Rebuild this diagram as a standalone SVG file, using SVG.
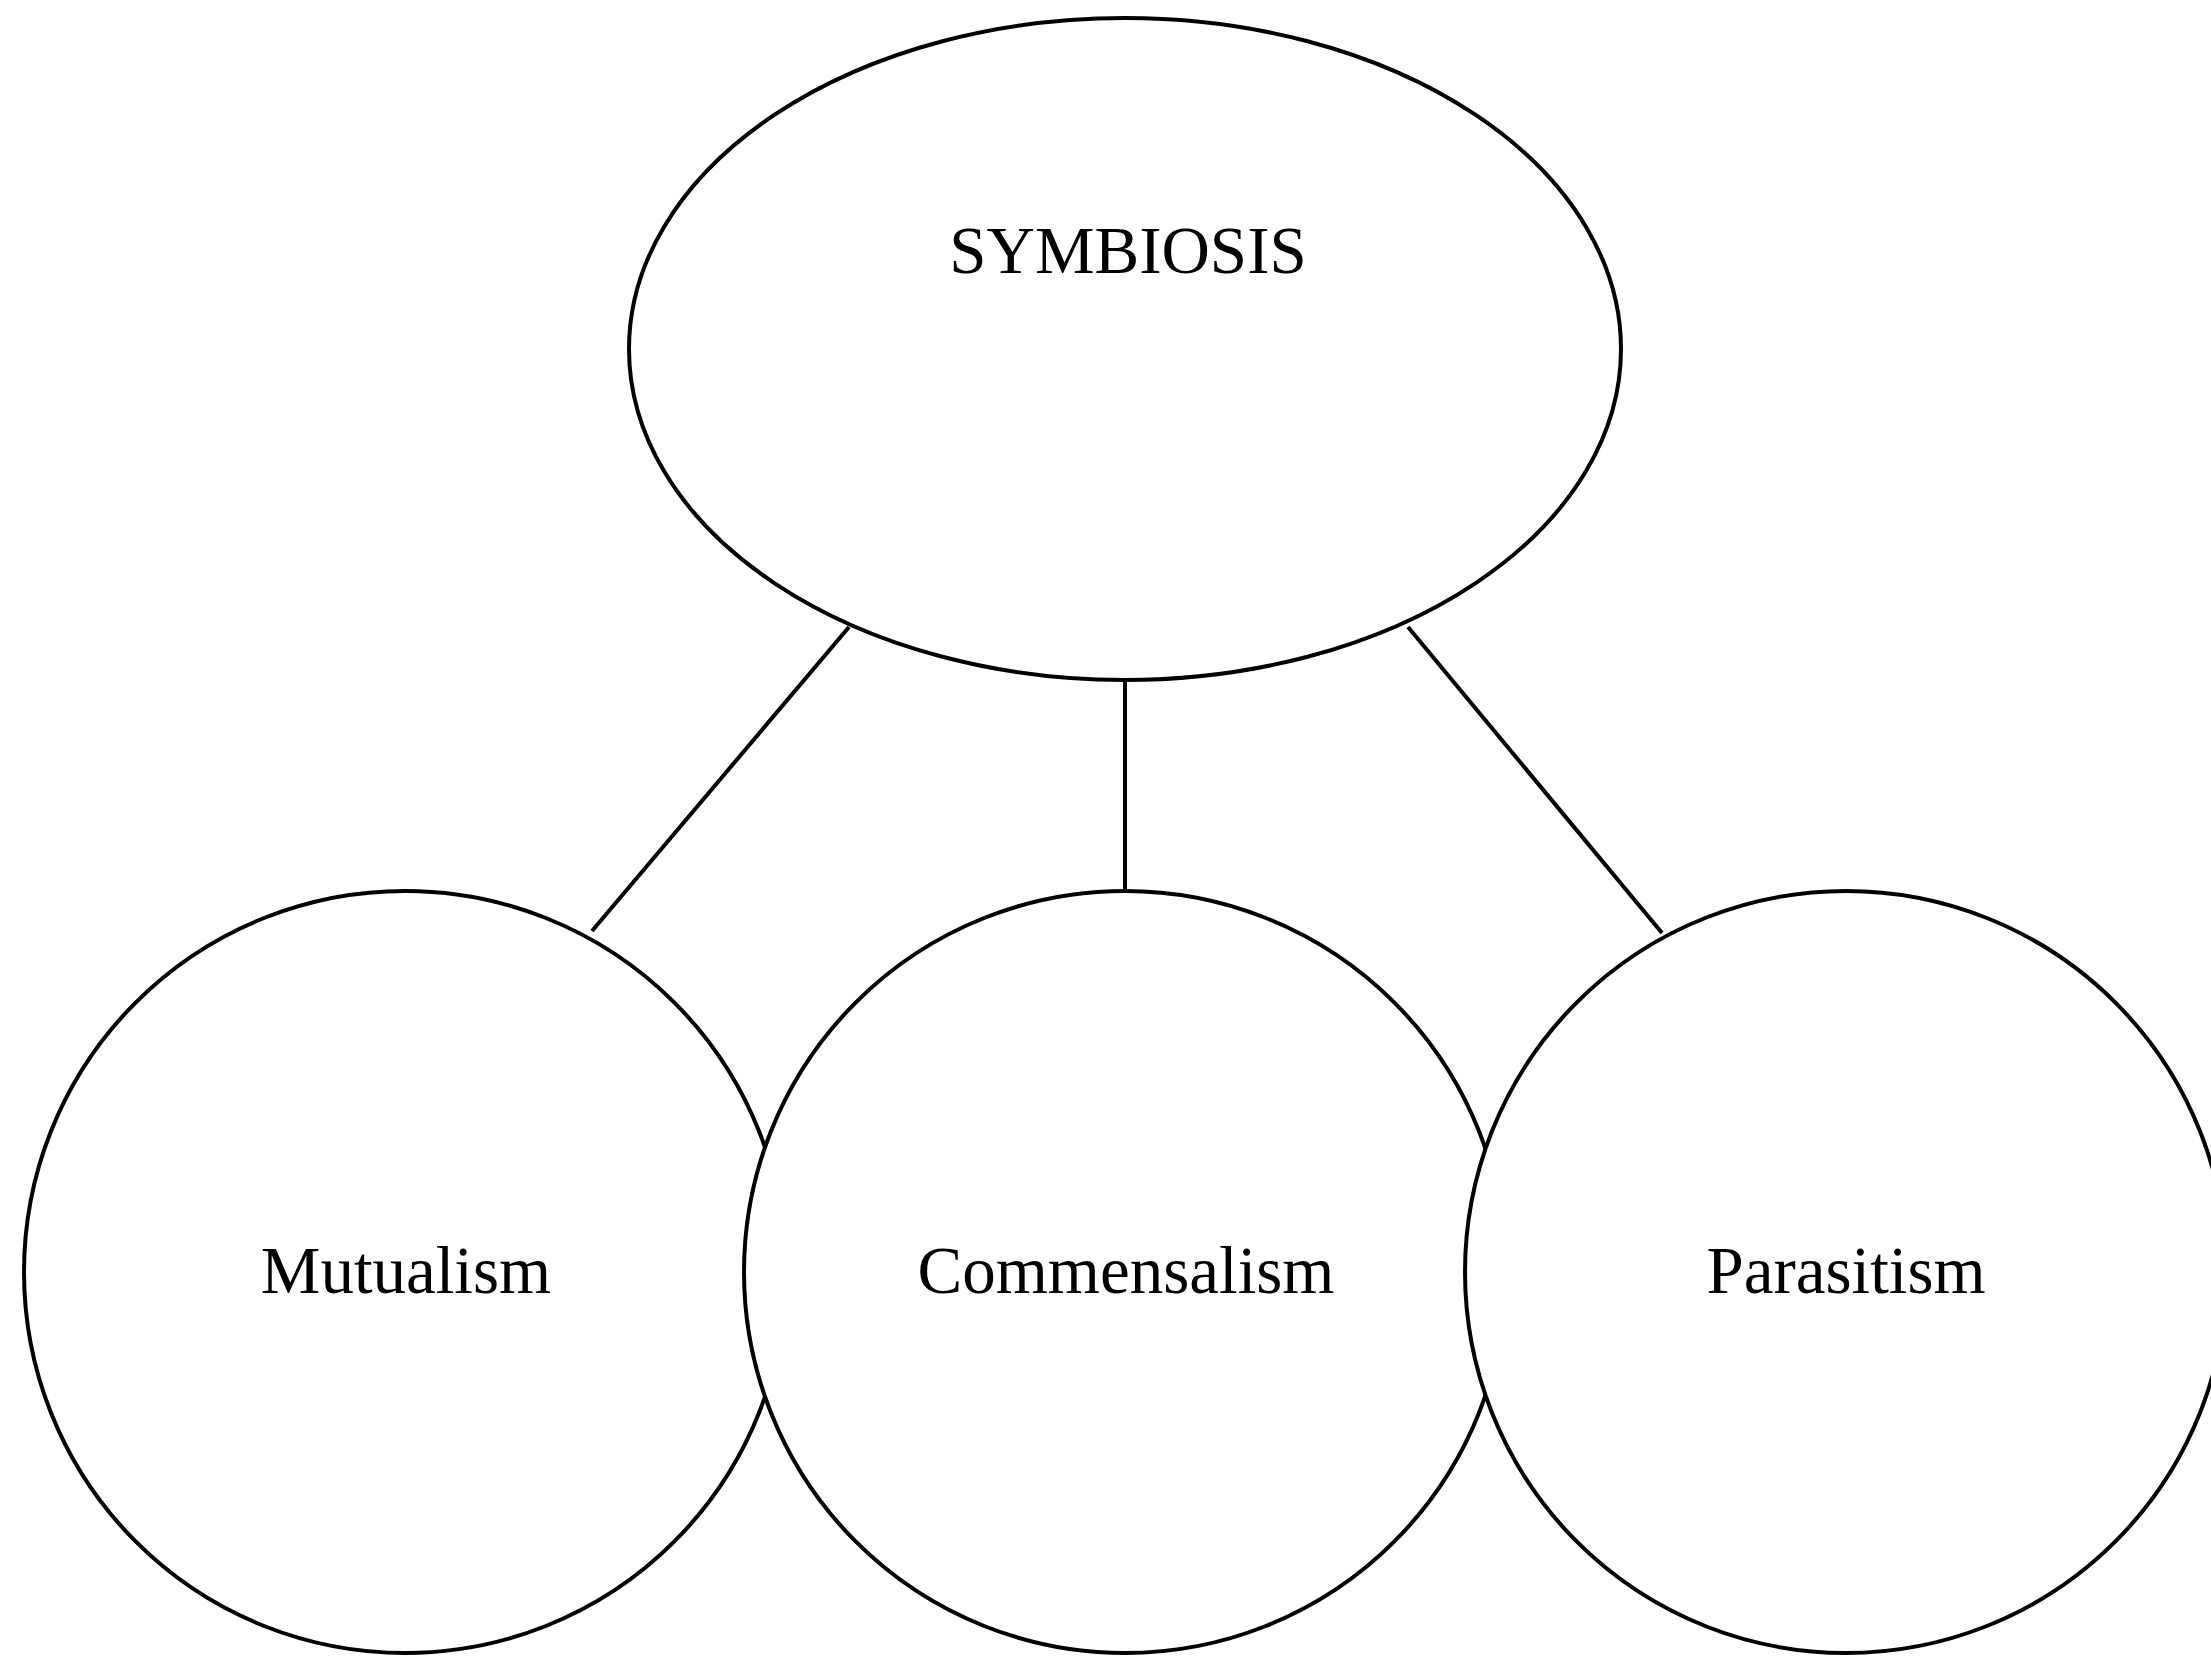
<svg xmlns="http://www.w3.org/2000/svg" width="2211" height="1656" viewBox="0 0 2211 1656">
<style>
.n{fill:#fff;stroke:#000;stroke-width:4}
.c{stroke:#000;stroke-width:4;fill:none}
text{font-family:"Liberation Serif","Times New Roman",serif;font-size:67px;fill:#000;text-anchor:middle}
</style>
<rect width="2211" height="1656" fill="#fff"/>
<g id="connectors">
<line class="c" x1="849" y1="627" x2="592" y2="931"/>
<line class="c" x1="1125" y1="679" x2="1125" y2="892"/>
<line class="c" x1="1408" y1="627" x2="1662" y2="933"/>
</g>
<g id="symbiosis">
<ellipse class="n" cx="1125" cy="349" rx="496" ry="331"/>
<text x="1128" y="273">SYMBIOSIS</text>
</g>
<g id="mutualism">
<circle class="n" cx="405" cy="1272" r="381"/>
<text x="406" y="1293">Mutualism</text>
</g>
<g id="commensalism">
<circle class="n" cx="1125" cy="1272" r="381"/>
<text x="1126" y="1293">Commensalism</text>
</g>
<g id="parasitism">
<circle class="n" cx="1846" cy="1272" r="381"/>
<text x="1846" y="1293">Parasitism</text>
</g>
</svg>
